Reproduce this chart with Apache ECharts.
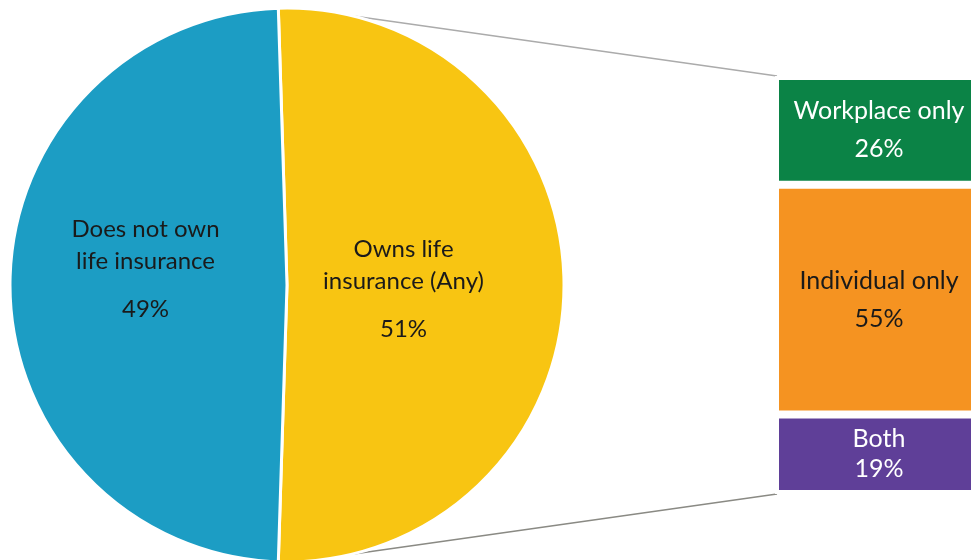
<!DOCTYPE html>
<html>
<head>
<meta charset="utf-8">
<script src="https://cdn.jsdelivr.net/npm/echarts@6/dist/echarts.min.js"></script>
<style>html,body{margin:0;padding:0;background:#fff;overflow:hidden}#c{width:975px;height:560px}</style>
</head>
<body>
<div id="c"></div>
<script>
// ---- data ----
var pieNames = ['Owns life\ninsurance (Any)', 'Does not own\nlife insurance'];
var pieValues = [51, 49];
var barNames = ['Workplace only', 'Individual only', 'Both'];
var barValues = [26, 55, 19];

// ---- layout / style ----
var FONT = 'Lato';
var pieColors = ['#F8C512', '#1C9DC4'];
var barColors = ['#0B8346', '#F59321', '#5F3F98'];
var barTextColors = ['#ffffff', '#1a1a1a', '#ffffff'];
var barLineHeights = [38, 38, 30];
var pieCenter = [287, 285], pieRadius = 277;
var gridBox = {left: 775, right: 0, top: 76, bottom: 66};
var pieLabelOffsets = [[-25, 12], [0, -8]];

var chart = echarts.init(document.getElementById('c'), null, {renderer: 'canvas'});

var total = pieValues.reduce(function (a, b) { return a + b; }, 0);
var startAngle = 90 + (pieValues[0] / total - 0.5) * 180;

var pieData = pieNames.map(function (n, i) {
  return {
    name: n, value: pieValues[i],
    itemStyle: {color: pieColors[i]},
    label: {offset: pieLabelOffsets[i]}
  };
});

var barSeries = barNames.map(function (n, i) {
  return {
    type: 'bar', name: n, stack: 'own', barWidth: '100%',
    data: [barValues[i]],
    itemStyle: {color: barColors[i], borderColor: '#fff', borderWidth: 4},
    label: {
      show: true, position: 'inside',
      offset: [4, 0],
      formatter: function (p) { return p.seriesName + '\n' + p.value + '%'; },
      color: barTextColors[i], fontFamily: FONT, fontSize: 25,
      lineHeight: barLineHeights[i]
    },
    silent: true
  };
});

var option = {
  animation: false,
  grid: {left: gridBox.left, right: gridBox.right, top: gridBox.top, bottom: gridBox.bottom, containLabel: false},
  xAxis: {type: 'category', data: [''], show: false},
  yAxis: {type: 'value', min: 0, max: 100, inverse: true, show: false},
  series: [{
    type: 'pie',
    center: pieCenter, radius: pieRadius,
    startAngle: startAngle, clockwise: true,
    silent: true,
    itemStyle: {borderColor: '#fff', borderWidth: 3},
    label: {
      show: true, position: 'inside',
      formatter: function (p) {
        return '{n|' + p.name.split('\n').join('}\n{n|') + '}\n{p|' + p.value + '%}';
      },
      rich: {
        n: {fontFamily: FONT, fontSize: 24, color: '#1a1a1a', lineHeight: 32},
        p: {fontFamily: FONT, fontSize: 24, color: '#1a1a1a', lineHeight: 64}
      }
    },
    labelLine: {show: false},
    data: pieData
  }].concat(barSeries)
};
chart.setOption(option);

// connector lines from pie edge to the bar stack corners
var topCorner = chart.convertToPixel({gridIndex: 0}, [0, 0]);
var botCorner = chart.convertToPixel({gridIndex: 0}, [0, 100]);
var leftX = gridBox.left + 2;
var ang = 76.5 * Math.PI / 180;
var p1 = [pieCenter[0] + pieRadius * Math.cos(ang), pieCenter[1] - pieRadius * Math.sin(ang)];
var p2 = [pieCenter[0] + pieRadius * Math.cos(ang), pieCenter[1] + pieRadius * Math.sin(ang)];
chart.setOption({
  graphic: [
    {type: 'line', z: -1, shape: {x1: p1[0], y1: p1[1], x2: leftX, y2: topCorner[1]}, style: {stroke: '#ababab', lineWidth: 1.5}},
    {type: 'line', z: -1, shape: {x1: p2[0], y1: p2[1], x2: leftX, y2: botCorner[1]}, style: {stroke: '#8a8a84', lineWidth: 1.5}}
  ]
});
</script>
</body>
</html>
